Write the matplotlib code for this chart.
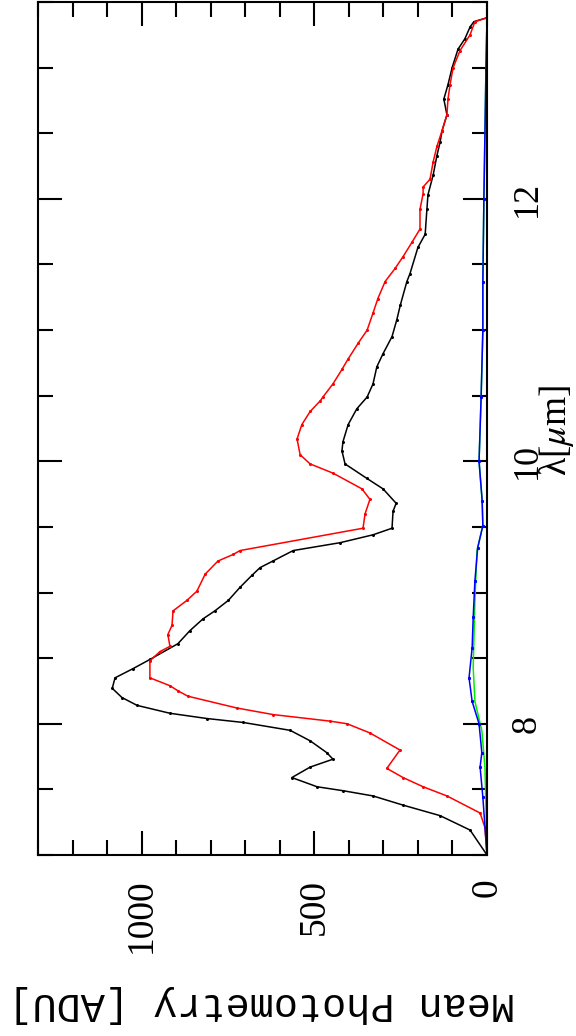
import numpy as np
import matplotlib
matplotlib.use('Agg')
import matplotlib.pyplot as plt
from matplotlib.ticker import MultipleLocator

plt.rcParams['mathtext.fontset'] = 'stix'

# wavelength (um) and mean photometry (ADU)
lam_black = [7.00, 7.19, 7.30, 7.38, 7.45, 7.49, 7.52, 7.59, 7.67, 7.73, 7.78, 7.87, 7.95,
             8.01, 8.04, 8.08, 8.14, 8.20, 8.27, 8.35, 8.42, 8.49, 8.61, 8.71, 8.80, 8.86,
             8.94, 9.04, 9.13, 9.19, 9.24, 9.32, 9.38, 9.44, 9.49, 9.62, 9.68, 9.79, 9.87,
             9.98, 10.08, 10.15, 10.28, 10.40, 10.49, 10.59, 10.72, 10.82, 10.95, 11.08,
             11.19, 11.37, 11.43, 11.63, 11.73, 11.92, 12.03, 12.18, 12.33, 12.43, 12.52,
             12.64, 12.76, 12.87, 13.00, 13.14, 13.22, 13.31, 13.35, 13.38]
phot_black = [0, 49, 136, 243, 330, 417, 492, 565, 512, 446, 464, 512, 570,
              706, 811, 918, 1013, 1057, 1085, 1077, 1025, 976, 895, 860, 822, 788,
              749, 715, 681, 657, 620, 561, 425, 330, 275, 272, 263, 301, 348,
              411, 420, 417, 402, 377, 347, 330, 319, 301, 275, 261,
              251, 232, 223, 200, 179, 174, 171, 156, 145, 136, 130,
              116, 125, 113, 101, 84, 64, 49, 38, 0]

lam_red = [7.00, 7.21, 7.32, 7.45, 7.52, 7.59, 7.66, 7.80, 7.93, 8.00, 8.02, 8.07, 8.12,
           8.21, 8.25, 8.29, 8.35, 8.48, 8.55, 8.59, 8.68, 8.75, 8.86, 8.94, 9.01, 9.14,
           9.24, 9.29, 9.32, 9.49, 9.60, 9.71, 9.79, 9.91, 9.98, 10.05, 10.17, 10.28,
           10.38, 10.46, 10.49, 10.59, 10.70, 10.78, 10.90, 11.00, 11.13, 11.24, 11.37,
           11.47, 11.56, 11.67, 11.77, 11.92, 12.04, 12.09, 12.15, 12.28, 12.40, 12.52,
           12.64, 12.76, 12.87, 13.00, 13.13, 13.25, 13.35, 13.38]
phot_red = [0, 6, 20, 116, 185, 243, 290, 252, 339, 405, 454, 619, 724,
            866, 894, 918, 976, 976, 947, 918, 924, 912, 909, 869, 840, 816,
            779, 735, 715, 359, 353, 339, 362, 446, 512, 541, 550, 536,
            512, 483, 475, 446, 420, 402, 373, 347, 330, 316, 295,
            266, 243, 217, 194, 194, 185, 185, 165, 156, 145, 130,
            116, 113, 107, 98, 78, 49, 35, 0]

lam_green = [7.00, 7.16, 7.67, 7.95, 8.17, 8.43, 8.94, 9.32, 9.51, 9.70, 10.00, 10.49,
             11.00, 11.37, 12.00, 12.99, 13.38]
phot_green = [0, 1, 6, 15, 35, 40, 35, 29, 12, 14, 23, 17, 12, 12, 9, 3, 0]

lam_blue = [7.00, 7.44, 7.67, 7.78, 8.00, 8.17, 8.35, 8.58, 8.81, 9.09, 9.34, 9.51, 9.70,
            10.00, 10.49, 11.00, 11.37, 12.00, 12.99, 13.38]
phot_blue = [0, 12, 20, 15, 23, 43, 52, 43, 40, 35, 27, 12, 14, 23, 17, 12, 12, 9, 3, 0]

fig = plt.figure(figsize=(5.76, 10.36), dpi=100)
ax = fig.add_axes([38 / 576, 1 - 855 / 1036, 449 / 576, 853 / 1036])

# the chart is drawn turned: photometry runs right-to-left, wavelength bottom-to-top
ax.plot(phot_black, lam_black, color='black', lw=1.1, marker='o', ms=1.2)
ax.plot(phot_red, lam_red, color='red', lw=1.1, marker='o', ms=1.2)
ax.plot(phot_green, lam_green, color='#00ee00', lw=1.1)
ax.plot(phot_blue, lam_blue, color='blue', lw=1.1, marker='s', ms=1.2)

ax.set_xlim(1300, 0)
ax.set_ylim(7.0, 13.5)

ax.xaxis.set_major_locator(MultipleLocator(500))
ax.xaxis.set_minor_locator(MultipleLocator(100))
ax.yaxis.set_major_locator(MultipleLocator(2))
ax.yaxis.set_minor_locator(MultipleLocator(0.5))

ax.tick_params(which='both', direction='in', top=True, bottom=True, left=True, right=True,
               width=1.5, labelleft=False, labelright=True)
ax.tick_params(which='major', length=17)
ax.tick_params(which='minor', length=10.5)
ax.tick_params(axis='x', pad=17)
ax.tick_params(axis='y', pad=17)

for lab in ax.get_xticklabels():
    lab.set_family('Liberation Serif')
    lab.set_fontsize(27)
    lab.set_rotation(90)
for lab in ax.get_yticklabels():
    lab.set_family('Liberation Serif')
    lab.set_fontsize(26)
    lab.set_rotation(90)
    lab.set_verticalalignment('center')

for s in ax.spines.values():
    s.set_linewidth(1.5)

fig.text(262 / 576, 1 - 1004 / 1036, 'Mean Photometry [ADU]', rotation=180,
         ha='center', va='center', family='Liberation Mono', fontsize=29)
fig.text(556 / 576, 1 - 430 / 1036, r'λ[$\mu$m]', rotation=90,
         ha='center', va='center', family='Liberation Serif', fontsize=27)

fig.savefig('out.png', dpi=100)
